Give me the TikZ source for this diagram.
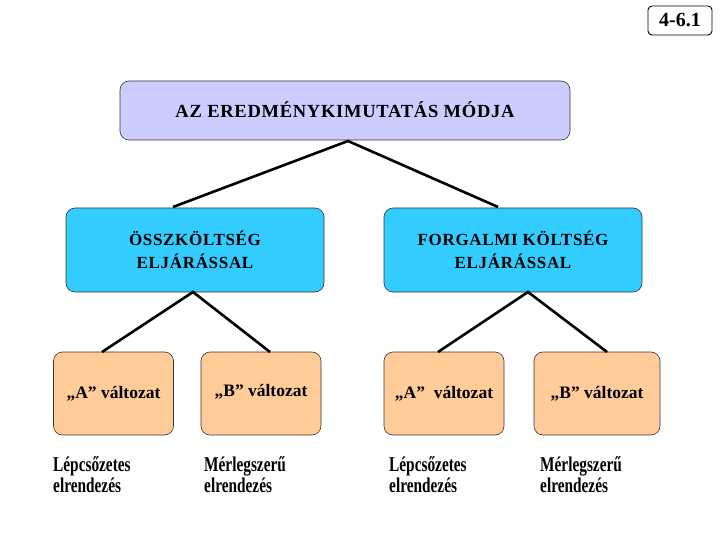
\documentclass[tikz,border=0pt]{standalone}
\usepackage{fontspec}
\setmainfont{Liberation Serif}
\newfontfamily\spacedfont[LetterSpace=4]{Liberation Serif}
\newfontfamily\narrowfont[FakeStretch=0.73]{Liberation Serif}
\definecolor{topfill}{HTML}{CCCCFF}
\definecolor{bluefill}{HTML}{33CCFF}
\definecolor{orangefill}{HTML}{FFCC99}
\begin{document}
\begin{tikzpicture}[x=1pt,y=-1pt,
  box/.style={draw=black!80, line width=0.6pt, rounded corners=9pt, inner sep=0pt, align=center},
  topbox/.style={box, fill=topfill, minimum width=450pt, minimum height=59pt, font=\spacedfont\bfseries\fontsize{18.5}{22}\selectfont},
  bluebox/.style={box, fill=bluefill, minimum width=258pt, minimum height=84pt, font=\spacedfont\bfseries\fontsize{17}{23}\selectfont},
  orangebox/.style={box, fill=orangefill, minimum width=120pt, minimum height=83pt, font=\bfseries\fontsize{17.5}{21}\selectfont},
  lbl/.style={font=\narrowfont\bfseries\fontsize{21}{20.5}\selectfont, align=left, anchor=base west, inner sep=0pt},
  conn/.style={line width=2.6pt}]
\useasboundingbox (0,0) rectangle (720,540);
\node[draw=black, line width=0.9pt, rounded corners=4pt, minimum width=64pt, minimum height=29pt, inner sep=0pt, font=\bfseries\fontsize{20}{22}\selectfont] (num) at (680,20.5) {4-6.1};
\node[topbox, text depth=1pt] (top) at (345,110.5) {AZ EREDMÉNYKIMUTATÁS MÓDJA};
\node[bluebox] (b1) at (195,250) {ÖSSZKÖLTSÉG\\ELJÁRÁSSAL};
\node[bluebox] (b2) at (513,250) {FORGALMI KÖLTSÉG\\ELJÁRÁSSAL};
\node[orangebox] (o1) at (113.5,393.5) {„A” változat};
\node[orangebox, text depth=6pt] (o2) at (261,393.5) {„B” változat};
\node[orangebox] (o3) at (444,393.5) {„A”\ \ változat};
\node[orangebox, minimum width=126pt] (o4) at (597,393.5) {„B” változat};
\coordinate (t0) at (348,141);
\coordinate (t1) at (173,207);
\coordinate (t2) at (498,207);
\coordinate (l0) at (193,292);
\coordinate (l1) at (102,352);
\coordinate (l2) at (270,352);
\coordinate (r0) at (528,292);
\coordinate (r1) at (438,352);
\coordinate (r2) at (607,352);
\draw[conn] (t1) -- (t0) -- (t2);
\draw[conn] (l1) -- (l0) -- (l2);
\draw[conn] (r1) -- (r0) -- (r2);
\node[lbl] (d1) at (53,492) {Lépcsőzetes\\elrendezés};
\node[lbl] (d2) at (204,492) {Mérlegszerű\\elrendezés};
\node[lbl] (d3) at (389,492) {Lépcsőzetes\\elrendezés};
\node[lbl] (d4) at (540,492) {Mérlegszerű\\elrendezés};
\end{tikzpicture}
\end{document}
